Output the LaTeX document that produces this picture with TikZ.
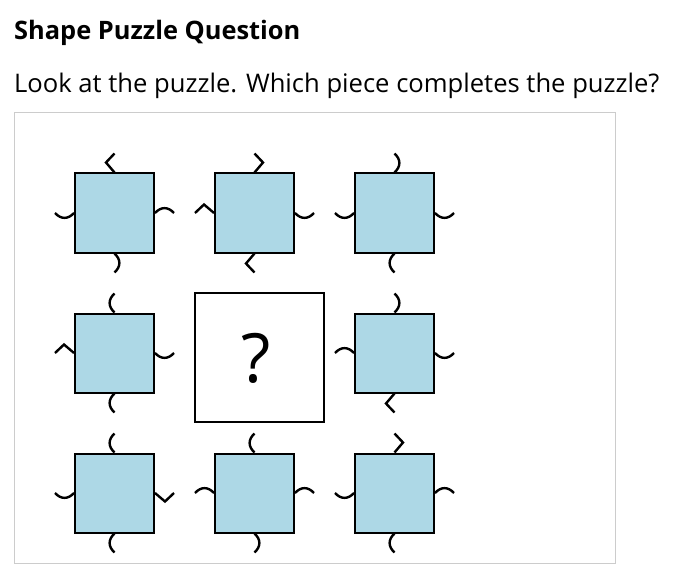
\documentclass[tikz,border=0pt]{standalone}
\usepackage{fontspec}
\setmainfont{Open Sans}
\definecolor{lightblue}{HTML}{ADD8E6}
\definecolor{framegray}{HTML}{CCCCCC}

\tikzset{
  piece/.style={draw, fill=lightblue, line width=2pt, minimum size=79pt, inner sep=0pt},
  blank/.style={draw, fill=white, line width=2pt, minimum size=129pt, inner sep=0pt},
  flip/.style={yscale=-1},
  bump/.pic={\draw[line width=2.4pt] (0,0) .. controls (6,6.5) and (13,6.5) .. (19,0);},
  notch/.pic={\draw[line width=2.4pt] (0,0) -- (10,8.5) -- (19,0);}
}

\begin{document}
\begin{tikzpicture}[x=1pt, y=1pt]
    \useasboundingbox (0,0) rectangle (683,-583);

    % draw heading and question
    \node[anchor=base west, inner sep=0pt, font=\bfseries\fontsize{25.4}{30}\selectfont] (title) at (14,-40) {Shape Puzzle Question};
    \node[anchor=base west, inner sep=0pt, font=\fontsize{25.6}{30}\selectfont] (question) at (14,-93) {Look at the puzzle. Which piece completes the puzzle?};

    % draw frame round the puzzle
    \draw[framegray, line width=1pt] (14.5,-112.5) rectangle (615.5,-563.5);

    % draw pieces
    \node[piece] (p11) at (114.5,-213) {};
    \node[piece] (p12) at (254.5,-213) {};
    \node[piece] (p13) at (394.5,-213) {};
    \node[piece] (p21) at (114.5,-353) {};
    \node[blank] (gap) at (259.5,-357) {};
    \node[piece] (p23) at (394.5,-353) {};
    \node[piece] (p31) at (114.5,-493) {};
    \node[piece] (p32) at (254.5,-493) {};
    \node[piece] (p33) at (394.5,-493) {};
    \node[anchor=base, inner sep=0pt, font=\fontsize{68}{70}\selectfont] (mark) at (256,-382) {?};

    % draw tabs of the top row
    \pic[rotate= 90]       at (p11.north) {notch};
    \pic[rotate=180]       at (p11.west)  {bump};
    \pic[rotate=  0]       at (p11.east)  {bump};
    \pic[rotate=270]       at (p11.south) {bump};

    \pic[rotate= 90, flip] at (p12.north) {notch};
    \pic[rotate=180, flip] at (p12.west)  {notch};
    \pic[rotate=  0, flip] at (p12.east)  {bump};
    \pic[rotate=270, flip] at (p12.south) {notch};

    \pic[rotate= 90, flip] at (p13.north) {bump};
    \pic[rotate=180]       at (p13.west)  {bump};
    \pic[rotate=  0, flip] at (p13.east)  {bump};
    \pic[rotate=270, flip] at (p13.south) {bump};

    % draw tabs of the middle row
    \pic[rotate= 90]       at (p21.north) {bump};
    \pic[rotate=180, flip] at (p21.west)  {notch};
    \pic[rotate=  0, flip] at (p21.east)  {bump};
    \pic[rotate=270, flip] at (p21.south) {bump};

    \pic[rotate= 90, flip] at (p23.north) {bump};
    \pic[rotate=180, flip] at (p23.west)  {bump};
    \pic[rotate=  0, flip] at (p23.east)  {bump};
    \pic[rotate=270, flip] at (p23.south) {notch};

    % draw tabs of the bottom row
    \pic[rotate= 90]       at (p31.north) {bump};
    \pic[rotate=180]       at (p31.west)  {bump};
    \pic[rotate=  0, flip] at (p31.east)  {notch};
    \pic[rotate=270, flip] at (p31.south) {bump};

    \pic[rotate= 90]       at (p32.north) {bump};
    \pic[rotate=180, flip] at (p32.west)  {bump};
    \pic[rotate=  0]       at (p32.east)  {bump};
    \pic[rotate=270]       at (p32.south) {bump};

    \pic[rotate= 90, flip] at (p33.north) {notch};
    \pic[rotate=180]       at (p33.west)  {bump};
    \pic[rotate=  0]       at (p33.east)  {bump};
    \pic[rotate=270, flip] at (p33.south) {bump};
\end{tikzpicture}
\end{document}
